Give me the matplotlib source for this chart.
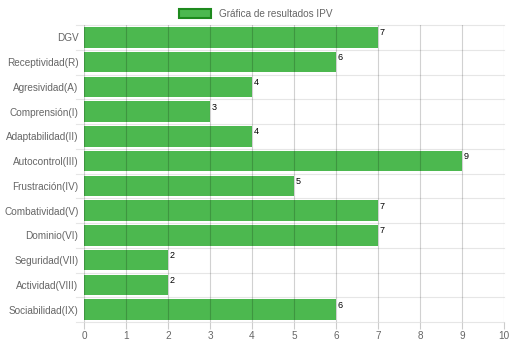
import matplotlib

matplotlib.use("Agg")
import matplotlib.pyplot as plt
from matplotlib.patches import Patch

categories = [
    "DGV", "Receptividad(R)", "Agresividad(A)", "Comprensión(I)",
    "Adaptabilidad(II)", "Autocontrol(III)", "Frustración(IV)",
    "Combatividad(V)", "Dominio(VI)", "Seguridad(VII)", "Actividad(VIII)",
    "Sociabilidad(IX)",
]
values = [7, 6, 4, 3, 4, 9, 5, 7, 7, 2, 2, 6]
x_ticks = list(range(0, 11))
legend_label = "Gráfica de resultados IPV"

plt.rcParams["font.family"] = ["Liberation Sans", "DejaVu Sans"]

fig = plt.figure(figsize=(5.11, 3.44), dpi=100)
ax = fig.add_axes([84 / 511, 1 - 322 / 344, 420 / 511, 297 / 344])

y = list(range(len(categories)))
ax.barh(y, values, height=0.82, color="#4cb84f", zorder=1)

for yi, v in zip(y, values):
    ax.text(v + 0.04, yi - 0.18, str(v), fontsize=6.5, color="#000000",
            ha="left", va="center", zorder=3)

ax.set_xlim(0, 10)
ax.set_ylim(len(categories) - 0.5, -0.5)
ax.set_xticks(x_ticks)
ax.set_yticks(y)
ax.set_yticklabels(categories)
ax.tick_params(axis="both", labelsize=7.2, colors="#666666", length=0, pad=4)
ax.tick_params(axis="x", length=5, color="#cccccc", pad=1.5)

# vertical grid through bars
for xt in x_ticks:
    ax.axvline(xt, color="#000000", alpha=0.18, linewidth=0.8, zorder=2)
# horizontal category separators
for b in range(len(categories) + 1):
    ax.plot([-0.2, 10], [b - 0.5, b - 0.5], color="#e6e6e6", linewidth=0.8,
            zorder=0, clip_on=False)

for s in ax.spines.values():
    s.set_visible(False)

handle = Patch(facecolor="#4cb84f", edgecolor="#1e8a1e", linewidth=1.5)
fig.legend([handle], [legend_label], loc="upper center", bbox_to_anchor=(0.5, 1.0),
           frameon=False, fontsize=7.2, handlelength=3.2, handleheight=0.9,
           labelcolor="#666666")

fig.savefig("out.png", dpi=100)
